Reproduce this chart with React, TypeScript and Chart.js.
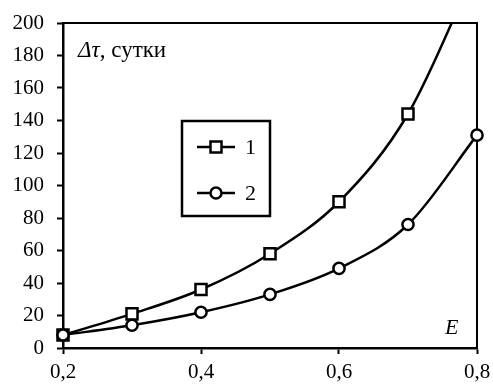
import React, { useEffect, useRef } from 'react';
import { Chart, registerables } from 'chart.js';

Chart.register(...registerables);

// ---- data ----
const eValues = [0.2, 0.3, 0.4, 0.5, 0.6, 0.7, 0.8];
const series1 = [8, 21, 36, 58, 90, 144, 235];
const series2 = [8, 14, 22, 33, 49, 76, 131];
const seriesLabels = ['1', '2'];
const xTickValues = [0.2, 0.4, 0.6, 0.8];
const yMin = 0;
const yMax = 200;
const yStep = 20;
const yTitleItalic = 'Δτ';
const yTitleRest = ', сутки';
const xTitle = 'E';

const FONT = '"Liberation Serif", "Times New Roman", serif';

const annotPlugin = {
  id: 'annot',
  beforeDatasetsDraw(chart: any) {
    const { ctx, chartArea: a } = chart;
    ctx.save();
    ctx.strokeStyle = '#000';
    ctx.lineWidth = 2;
    ctx.beginPath();
    ctx.moveTo(a.left, a.top);
    ctx.lineTo(a.right, a.top);
    ctx.lineTo(a.right, a.bottom);
    ctx.stroke();
    ctx.restore();
  },
  afterDraw(chart: any) {
    const { ctx, chartArea: a } = chart;
    ctx.save();
    ctx.fillStyle = '#000';
    ctx.textBaseline = 'alphabetic';
    ctx.textAlign = 'left';
    // y title
    ctx.font = `italic 23px ${FONT}`;
    const tx = a.left + 15;
    const ty = a.top + 34;
    ctx.fillText(yTitleItalic, tx, ty);
    const w = ctx.measureText(yTitleItalic).width;
    ctx.font = `23px ${FONT}`;
    ctx.fillText(yTitleRest, tx + w, ty);
    // x title
    ctx.font = `italic 22px ${FONT}`;
    ctx.fillText(xTitle, a.right - 32, a.bottom - 14);

    // legend box
    const bx = a.left + 119;
    const by = a.top + 98;
    const bw = 88;
    const bh = 95;
    ctx.strokeStyle = '#000';
    ctx.lineWidth = 2.5;
    ctx.strokeRect(bx, by, bw, bh);
    const items = chart.data.datasets;
    const rowYs = [by + 26, by + 72];
    items.forEach((ds: any, i: number) => {
      const y = rowYs[i];
      ctx.lineWidth = 2.5;
      ctx.beginPath();
      ctx.moveTo(bx + 15, y);
      ctx.lineTo(bx + 53, y);
      ctx.stroke();
      const cx = bx + 34;
      ctx.fillStyle = '#fff';
      ctx.lineWidth = 2.5;
      ctx.beginPath();
      if (ds.pointStyle === 'rect') {
        ctx.rect(cx - 5.5, y - 5.5, 11, 11);
      } else {
        ctx.arc(cx, y, 5.5, 0, Math.PI * 2);
      }
      ctx.fill();
      ctx.stroke();
      ctx.fillStyle = '#000';
      ctx.font = `22px ${FONT}`;
      ctx.textBaseline = 'middle';
      ctx.fillText(ds.label, bx + 63, y + 1);
    });
    ctx.restore();
  },
};

export default function App() {
  const ref = useRef<HTMLCanvasElement>(null);
  useEffect(() => {
    document.body.style.margin = '0';
    const canvas = ref.current!;
    const chart = new Chart(canvas, {
      type: 'line',
      data: {
        datasets: [
          {
            label: seriesLabels[0],
            data: eValues.map((x, i) => ({ x, y: series1[i] })),
            borderColor: '#000',
            borderWidth: 2.5,
            backgroundColor: '#fff',
            pointStyle: 'rect',
            pointRadius: (c: any) => (c.parsed && c.parsed.y > yMax ? 0 : 7.8),
            pointBorderWidth: 2.5,
            pointBorderColor: '#000',
            pointBackgroundColor: '#fff',
            cubicInterpolationMode: 'monotone',
            clip: { left: false, right: false, bottom: false, top: 1 } as any,
            order: 1,
          },
          {
            label: seriesLabels[1],
            data: eValues.map((x, i) => ({ x, y: series2[i] })),
            borderColor: '#000',
            borderWidth: 2.5,
            backgroundColor: '#fff',
            pointStyle: 'circle',
            pointRadius: 5.6,
            pointBorderWidth: 2.5,
            pointBorderColor: '#000',
            pointBackgroundColor: '#fff',
            cubicInterpolationMode: 'monotone',
            clip: false as any,
            order: 0,
          },
        ],
      },
      options: {
        animation: false,
        responsive: false,
        maintainAspectRatio: false,
        layout: { padding: { left: 0, right: 16, top: 23, bottom: 0 } },
        plugins: { legend: { display: false }, tooltip: { enabled: false } },
        scales: {
          x: {
            type: 'linear',
            min: xTickValues[0],
            max: xTickValues[xTickValues.length - 1],
            afterBuildTicks: (s: any) => {
              s.ticks = xTickValues.map((v) => ({ value: v }));
            },
            afterFit: (s: any) => {
              s.height = 37;
              s.paddingLeft = 0;
              s.paddingRight = 0;
            },
            ticks: {
              color: '#000',
              font: { family: FONT, size: 21 },
              padding: 6,
              maxRotation: 0,
              autoSkip: false,
              callback: (v: any) => Number(v).toFixed(1).replace('.', ','),
            },
            grid: { drawOnChartArea: false, drawTicks: true, tickLength: 6, tickWidth: 2, tickColor: '#000' },
            border: { display: true, color: '#000', width: 2.5 },
          },
          y: {
            type: 'linear',
            min: yMin,
            max: yMax,
            afterFit: (s: any) => {
              s.width = 63;
              s.paddingTop = 0;
              s.paddingBottom = 0;
            },
            ticks: {
              stepSize: yStep,
              color: '#000',
              font: { family: FONT, size: 21 },
              padding: 13,
            },
            grid: { drawOnChartArea: false, drawTicks: true, tickLength: 6, tickWidth: 2, tickColor: '#000' },
            border: { display: true, color: '#000', width: 2.5 },
          },
        },
      },
      plugins: [annotPlugin],
    } as any);
    return () => chart.destroy();
  }, []);
  return (
    <div style={{ width: 493, height: 385 }}>
      <canvas ref={ref} width={493} height={385} style={{ display: 'block', width: 493, height: 385 }} />
    </div>
  );
}
